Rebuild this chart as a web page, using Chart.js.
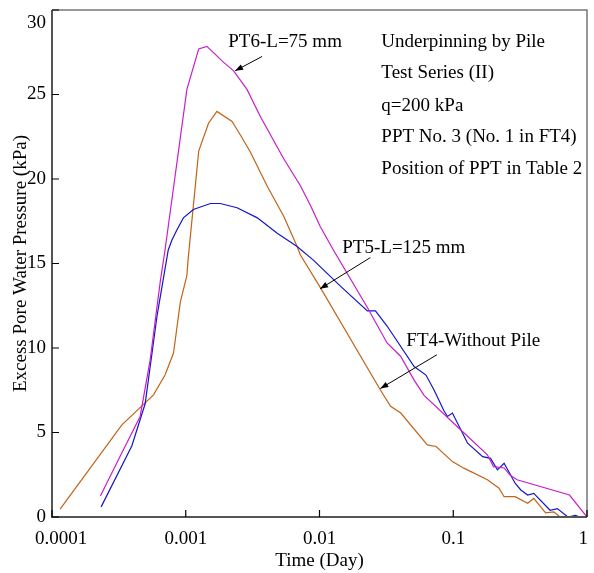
<!DOCTYPE html>
<html>
<head>
<meta charset="utf-8">
<script src="https://cdn.jsdelivr.net/npm/chart.js@4.4.1/dist/chart.umd.min.js"></script>
<style>
  html, body { margin: 0; padding: 0; background: #fff; }
  #wrap { width: 594px; height: 573px; }
</style>
</head>
<body>
<div id="wrap"><canvas id="ppChart" width="594" height="573"></canvas></div>
<script>
// FT4 - without pile
const ft4Time = [1.15e-4, 3.33e-4, 5.74e-4, 7.0e-4, 8.1e-4, 9.1e-4, 1.02e-3, 1.04e-3, 1.25e-3, 1.48e-3,
    1.71e-3, 2.22e-3, 2.56e-3, 3.04e-3, 4.05e-3, 5.4e-3, 6.8e-3, 7.2e-3, 0.0101, 0.0286, 0.034, 0.0405,
    0.064, 0.0745, 0.0986, 0.12, 0.18, 0.22, 0.24, 0.29, 0.36, 0.40, 0.49, 0.565, 0.63];
const ft4Pressure = [0.47, 5.45, 7.23, 8.4, 9.7, 12.7, 14.3, 15.2, 21.65, 23.3,
    24.0, 23.4, 22.6, 21.6, 19.6, 17.8, 16.0, 15.5, 13.6, 7.5, 6.55, 6.15,
    4.27, 4.17, 3.28, 2.89, 2.2, 1.7, 1.2, 1.2, 0.81, 1.1, 0.24, 0.3, 0];

// PT6 - L=75 mm
const pt6Time = [2.3e-4, 3.33e-4, 4.56e-4, 5.42e-4, 6.44e-4, 7.0e-4, 1.02e-3, 1.25e-3, 1.44e-3, 1.92e-3,
    2.28e-3, 2.87e-3, 3.61e-3, 5.4e-3, 7.2e-3, 8.6e-3, 0.0101, 0.0127, 0.0228, 0.032, 0.0405, 0.051,
    0.0605, 0.114, 0.18, 0.2, 0.24, 0.265, 0.30, 0.74, 1.0];
const pt6Pressure = [1.24, 3.8, 5.95, 9.3, 13.9, 15.8, 25.3, 27.7, 27.85, 26.9,
    26.4, 25.3, 23.7, 21.2, 19.6, 18.4, 17.2, 15.8, 12.4, 10.3, 9.5, 8.1,
    7.2, 5.15, 3.68, 2.98, 2.9, 2.49, 2.2, 1.3, 0];

// PT5 - L=125 mm
const pt5Time = [2.33e-4, 3.95e-4, 4.97e-4, 6.1e-4, 7.4e-4, 7.9e-4, 8.6e-4, 9.6e-4, 1.14e-3, 1.53e-3, 1.81e-3,
    2.42e-3, 3.43e-3, 4.8e-3, 6.8e-3, 9.0e-3, 0.0144, 0.0228, 0.0262, 0.032, 0.051, 0.0625, 0.072,
    0.085, 0.0905, 0.0986, 0.128, 0.166, 0.19, 0.214, 0.24, 0.29, 0.32, 0.36, 0.40, 0.53, 0.6,
    0.72, 0.82, 0.88];
const pt5Pressure = [0.6, 4.2, 6.7, 11.9, 15.8, 16.4, 17.0, 17.7, 18.2, 18.55, 18.55,
    18.3, 17.7, 16.8, 16.0, 15.2, 13.65, 12.2, 12.2, 11.3, 8.9, 8.4, 7.5,
    6.3, 5.95, 6.15, 4.37, 3.57, 3.47, 2.79, 3.18, 2.0, 1.6, 1.3, 1.4, 0.4, 0.5,
    0, 0.1, 0];

const xTicks = [0.0001, 0.001, 0.01, 0.1, 1];
const xTickLabels = ['0.0001', '0.001', '0.01', '0.1', '1'];
const yTicks = [0, 5, 10, 15, 20, 25, 30];

const infoLines = ['Underpinning by Pile', 'Test Series (II)', 'q=200 kPa',
    'PPT No. 3 (No. 1 in FT4)', 'Position of PPT in Table 2'];
const infoLineY = [27.84, 25.95, 24.05, 22.16, 20.27];

// curve labels: text anchor and arrow (tail -> tip), in data units
const curveLabels = [
    { text: 'PT6-L=75 mm', x: 2.08e-3, y: 27.84, from: [3.72e-3, 27.25], to: [2.34e-3, 26.4] },
    { text: 'PT5-L=125 mm', x: 0.0148, y: 15.65, from: [0.024, 15.35], to: [0.0101, 13.5] },
    { text: 'FT4-Without Pile', x: 0.0446, y: 10.09, from: [0.0755, 9.6], to: [0.0285, 7.6] }
];

const serif = "'Liberation Serif', 'Times New Roman', serif";

function pairs(xs, ys) {
    return xs.map((x, i) => ({ x: x, y: ys[i] }));
}

const framePlugin = {
    id: 'frame',
    afterDraw(chart) {
        const ctx = chart.ctx;
        const area = chart.chartArea;
        const xs = chart.scales.x;
        const ys = chart.scales.y;
        ctx.save();

        // light top/right border
        ctx.strokeStyle = '#777';
        ctx.lineWidth = 1.5;
        ctx.beginPath();
        ctx.moveTo(area.left, area.top);
        ctx.lineTo(area.right, area.top);
        ctx.lineTo(area.right, area.bottom);
        ctx.stroke();

        // axes
        ctx.strokeStyle = '#555';
        ctx.lineWidth = 2;
        ctx.beginPath();
        ctx.moveTo(area.left, area.top);
        ctx.lineTo(area.left, area.bottom);
        ctx.lineTo(area.right, area.bottom);
        ctx.stroke();

        // inward ticks
        ctx.strokeStyle = '#000';
        ctx.lineWidth = 1.2;
        ctx.beginPath();
        yTicks.forEach(v => {
            const py = ys.getPixelForValue(v);
            ctx.moveTo(area.left, py);
            ctx.lineTo(area.left + 7, py);
        });
        xTicks.forEach(v => {
            const px = xs.getPixelForValue(v);
            ctx.moveTo(px, area.bottom);
            ctx.lineTo(px, area.bottom - 7);
        });
        ctx.stroke();

        // tick labels
        ctx.fillStyle = '#000';
        ctx.font = '19px ' + serif;
        ctx.textAlign = 'right';
        ctx.textBaseline = 'middle';
        yTicks.forEach(v => {
            const py = Math.max(ys.getPixelForValue(v), area.top + 13);
            ctx.fillText(String(v), area.left - 6, py);
        });
        ctx.textBaseline = 'alphabetic';
        xTicks.forEach((v, i) => {
            const label = xTickLabels[i];
            const w = ctx.measureText(label).width;
            const px = xs.getPixelForValue(v);
            const left = Math.min(Math.max(px - w / 2, area.left - 17), area.right - w + 1);
            ctx.textAlign = 'left';
            ctx.fillText(label, left, area.bottom + 27);
        });

        // info block
        ctx.textAlign = 'left';
        const infoX = xs.getPixelForValue(0.029);
        infoLines.forEach((t, i) => {
            ctx.fillText(t, infoX, ys.getPixelForValue(infoLineY[i]));
        });

        // curve labels with arrows
        curveLabels.forEach(c => {
            ctx.fillText(c.text, xs.getPixelForValue(c.x), ys.getPixelForValue(c.y));
            const x1 = xs.getPixelForValue(c.from[0]), y1 = ys.getPixelForValue(c.from[1]);
            const x2 = xs.getPixelForValue(c.to[0]), y2 = ys.getPixelForValue(c.to[1]);
            ctx.strokeStyle = '#000';
            ctx.lineWidth = 1;
            ctx.beginPath();
            ctx.moveTo(x1, y1);
            ctx.lineTo(x2, y2);
            ctx.stroke();
            const a = Math.atan2(y2 - y1, x2 - x1);
            const len = 8, w = 3;
            ctx.beginPath();
            ctx.moveTo(x2, y2);
            ctx.lineTo(x2 - len * Math.cos(a) + w * Math.sin(a), y2 - len * Math.sin(a) - w * Math.cos(a));
            ctx.lineTo(x2 - len * Math.cos(a) - w * Math.sin(a), y2 - len * Math.sin(a) + w * Math.cos(a));
            ctx.closePath();
            ctx.fill();
        });
        ctx.restore();
    }
};

const lineStyle = { borderWidth: 1.2, pointRadius: 0, tension: 0, fill: false };

new Chart(document.getElementById('ppChart').getContext('2d'), {
    type: 'line',
    data: {
        datasets: [
            Object.assign({ label: 'PT6-L=75 mm', data: pairs(pt6Time, pt6Pressure), borderColor: '#c81ec8' }, lineStyle),
            Object.assign({ label: 'PT5-L=125 mm', data: pairs(pt5Time, pt5Pressure), borderColor: '#1515c8' }, lineStyle),
            Object.assign({ label: 'FT4-Without Pile', data: pairs(ft4Time, ft4Pressure), borderColor: '#c06418' }, lineStyle)
        ]
    },
    options: {
        responsive: false,
        animation: false,
        layout: { padding: { top: 10, right: 7, left: 0, bottom: 0 } },
        plugins: {
            legend: { display: false },
            tooltip: { enabled: false }
        },
        scales: {
            x: {
                type: 'logarithmic',
                min: 0.0001,
                max: 1,
                afterBuildTicks: scale => { scale.ticks = xTicks.map(v => ({ value: v })); },
                afterFit: scale => { scale.height = 56; },
                grid: { display: false, drawTicks: false },
                border: { display: false },
                ticks: { display: false },
                title: {
                    display: true,
                    text: 'Time (Day)',
                    font: { family: serif, size: 19 },
                    color: '#000',
                    padding: { top: 0, bottom: 1 }
                }
            },
            y: {
                type: 'linear',
                min: 0,
                max: 30,
                afterBuildTicks: scale => { scale.ticks = yTicks.map(v => ({ value: v })); },
                afterFit: scale => { scale.width = 52; },
                grid: { display: false, drawTicks: false },
                border: { display: false },
                ticks: { display: false },
                title: {
                    display: true,
                    text: 'Excess Pore Water Pressure (kPa)',
                    font: { family: serif, size: 19 },
                    color: '#000',
                    padding: { top: 10, bottom: 0 }
                }
            }
        }
    },
    plugins: [framePlugin]
});
</script>
</body>
</html>
